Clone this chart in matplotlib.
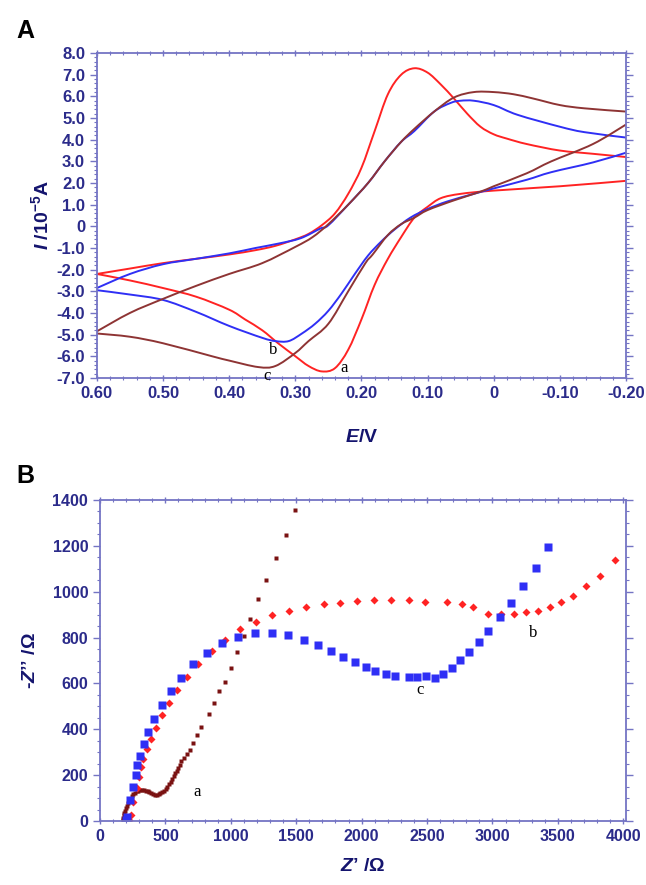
import matplotlib
matplotlib.use('Agg')
import matplotlib.pyplot as plt
from matplotlib.path import Path
from matplotlib.patches import PathPatch
from matplotlib.ticker import MultipleLocator, FixedLocator, FixedFormatter

plt.rcParams['font.family'] = ['Liberation Sans', 'DejaVu Sans']
plt.rcParams['mathtext.fontset'] = 'custom'
plt.rcParams['mathtext.rm'] = 'Liberation Sans:bold'
plt.rcParams['mathtext.it'] = 'Liberation Sans:bold:italic'
plt.rcParams['mathtext.bf'] = 'Liberation Sans:bold'
plt.rcParams['mathtext.default'] = 'rm'

# ---- panel A: cyclic voltammograms (E in V, I in 1e-5 A) ----
# a (red): forward branch with the anodic peak, then the return branch
a_up_E = [-0.20, -0.15, -0.10, -0.05, -0.02, 0.00, 0.02, 0.04, 0.06, 0.08, 0.10, 0.12, 0.14,
          0.16, 0.18, 0.20, 0.22, 0.24, 0.26, 0.28, 0.30, 0.33, 0.36, 0.40, 0.45, 0.50, 0.55, 0.60]
a_up_I = [3.2, 3.35, 3.5, 3.8, 4.05, 4.25, 4.6, 5.2, 5.9, 6.55, 7.1, 7.3, 7.0,
          6.1, 4.4, 2.7, 1.5, 0.6, 0.05, -0.35, -0.6, -0.9, -1.1, -1.3, -1.5, -1.7, -1.95, -2.2]
a_dn_E = [0.60, 0.55, 0.50, 0.45, 0.40, 0.376, 0.35, 0.326, 0.30, 0.28, 0.26, 0.24, 0.22, 0.20,
          0.18, 0.16, 0.14, 0.12, 0.10, 0.08, 0.05, 0.00, -0.10, -0.20]
a_dn_I = [-2.2, -2.5, -2.85, -3.25, -3.85, -4.3, -4.8, -5.4, -6.0, -6.45, -6.7, -6.55, -5.7, -4.3,
          -2.7, -1.5, -0.5, 0.4, 0.9, 1.3, 1.5, 1.65, 1.85, 2.1]

# b (blue)
b_up_E = [-0.20, -0.137, -0.10, -0.036, 0.00, 0.03, 0.05, 0.065, 0.09, 0.12, 0.14, 0.165, 0.19,
          0.22, 0.25, 0.262, 0.292, 0.326, 0.36, 0.40, 0.45, 0.50, 0.55, 0.60]
b_up_I = [4.1, 4.35, 4.6, 5.15, 5.6, 5.8, 5.8, 5.7, 5.3, 4.4, 3.9, 3.0, 2.0,
          1.0, 0.05, -0.1, -0.55, -0.8, -1.0, -1.25, -1.5, -1.75, -2.2, -2.85]
b_dn_E = [0.60, 0.55, 0.50, 0.45, 0.40, 0.35, 0.33, 0.31, 0.29, 0.27, 0.25, 0.23, 0.21, 0.19,
          0.17, 0.15, 0.126, 0.10, 0.07, 0.03, 0.00, -0.05, -0.087, -0.15, -0.20]
b_dn_I = [-2.95, -3.15, -3.4, -3.95, -4.6, -5.15, -5.3, -5.3, -4.95, -4.5, -3.9, -3.1, -2.2, -1.35,
          -0.7, -0.15, 0.4, 0.8, 1.15, 1.5, 1.75, 2.15, 2.5, 2.95, 3.4]

# c (brown)
c_up_E = [-0.20, -0.137, -0.10, -0.06, -0.03, 0.00, 0.03, 0.06, 0.09, 0.12, 0.14, 0.165, 0.19,
          0.22, 0.25, 0.274, 0.30, 0.35, 0.40, 0.45, 0.50, 0.55, 0.60]
c_up_I = [5.3, 5.45, 5.6, 5.9, 6.1, 6.2, 6.2, 5.95, 5.3, 4.5, 3.9, 3.0, 2.0,
          1.0, 0.1, -0.5, -0.95, -1.7, -2.2, -2.75, -3.35, -4.0, -4.85]
c_dn_E = [0.60, 0.55, 0.50, 0.426, 0.40, 0.356, 0.33, 0.30, 0.28, 0.25, 0.22, 0.194, 0.183,
          0.16, 0.14, 0.12, 0.10, 0.06, 0.02, 0.00, -0.05, -0.087, -0.15, -0.20]
c_dn_I = [-4.95, -5.1, -5.4, -6.0, -6.2, -6.5, -6.45, -5.85, -5.3, -4.5, -3.0, -1.7, -1.3,
          -0.4, 0.1, 0.4, 0.75, 1.2, 1.6, 1.85, 2.45, 3.0, 3.8, 4.7]

# ---- panel B: Nyquist plots (ohm) ----
# a (brown squares)
na_re = [175, 178, 180, 183, 188, 195, 203, 212, 222, 232, 243, 255, 268, 281, 294, 308, 322,
         336, 350, 364, 378, 392, 406, 420, 434, 448, 462, 476, 490, 503, 516, 528, 540, 552,
         563, 574, 585, 597, 609, 621, 645, 668, 688, 709, 744, 772, 836, 872, 912, 956, 999,
         1050, 1098, 1147, 1211, 1272, 1346, 1422, 1491]
na_im = [5, 15, 25, 35, 45, 55, 65, 77, 88, 98, 108, 117, 124, 129, 133, 135, 136,
         135, 133, 130, 126, 122, 118, 115, 115, 118, 122, 127, 132, 140, 150, 160, 172, 184,
         196, 208, 220, 233, 246, 260, 273, 292, 310, 339, 375, 411, 467, 515, 566, 606, 667,
         736, 808, 881, 967, 1052, 1146, 1246, 1356]
# b (red diamonds)
nb_re = [225, 237, 255, 280, 298, 313, 326, 357, 387, 428, 471, 527, 589, 665, 752, 854, 956,
         1073, 1193, 1317, 1447, 1577, 1710, 1837, 1965, 2097, 2222, 2362, 2482, 2655, 2770,
         2854, 2970, 3065, 3168, 3256, 3347, 3438, 3526, 3617, 3717, 3821, 3937]
nb_im = [5, 26, 84, 142, 193, 237, 269, 313, 356, 407, 461, 516, 570, 629, 686, 741, 791,
         836, 870, 898, 914, 932, 946, 952, 959, 962, 962, 962, 956, 956, 946,
         932, 902, 901, 905, 910, 917, 932, 955, 981, 1025, 1070, 1138]
# c (blue squares)
nc_re = [200, 204, 229, 255, 273, 285, 303, 339, 370, 415, 471, 540, 617, 708, 820, 933, 1057,
         1185, 1313, 1435, 1560, 1667, 1769, 1860, 1950, 2031, 2105, 2184, 2255, 2362, 2426,
         2495, 2564, 2625, 2689, 2755, 2824, 2895, 2969, 3058, 3142, 3236, 3333, 3428]
nc_im = [5, 19, 92, 150, 200, 244, 283, 336, 390, 443, 504, 567, 625, 683, 733, 776, 804,
         821, 821, 812, 789, 769, 743, 717, 695, 673, 654, 640, 632, 627, 628,
         631, 622, 642, 669, 702, 735, 781, 829, 888, 949, 1025, 1105, 1194]

RED = '#ff2323'
BLUE = '#2f2ff5'
BROWN = '#8e3434'
NAVY = '#14146e'
TICKC = '#2b2b8a'
SPINE = '#7474c4'


def smooth_curve(ax, xs, ys, color):
    """Draw a curve through the points as a Catmull-Rom style bezier path."""
    pts = list(zip(xs, ys))
    verts = [pts[0]]
    codes = [Path.MOVETO]
    n = len(pts)
    for i in range(n - 1):
        p0 = pts[i - 1] if i > 0 else pts[i]
        p1 = pts[i]
        p2 = pts[i + 1]
        p3 = pts[i + 2] if i + 2 < n else p2
        c1 = (p1[0] + (p2[0] - p0[0]) / 6, p1[1] + (p2[1] - p0[1]) / 6)
        c2 = (p2[0] - (p3[0] - p1[0]) / 6, p2[1] - (p3[1] - p1[1]) / 6)
        verts += [c1, c2, p2]
        codes += [Path.CURVE4] * 3
    ax.add_patch(PathPatch(Path(verts, codes), fill=False, edgecolor=color, lw=1.4))


def style_axes(ax, fs):
    for s in ax.spines.values():
        s.set_color(SPINE)
        s.set_linewidth(1.3)
    ax.tick_params(which='both', colors=SPINE, labelcolor=TICKC, direction='out',
                   top=True, right=True, labeltop=False, labelright=False)
    ax.tick_params(which='major', length=5, width=1.0)
    ax.tick_params(which='minor', length=2.5, width=0.8)
    ax.tick_params(axis='x', which='both', direction='inout')
    for lab in ax.get_xticklabels() + ax.get_yticklabels():
        lab.set_fontweight('bold')
        lab.set_fontsize(fs)


fig = plt.figure(figsize=(6.46, 8.85), dpi=100)

# panel A
axA = fig.add_axes([0.150, 0.573, 0.819, 0.367])
smooth_curve(axA, a_up_E, a_up_I, RED)
smooth_curve(axA, a_dn_E, a_dn_I, RED)
smooth_curve(axA, b_up_E, b_up_I, BLUE)
smooth_curve(axA, b_dn_E, b_dn_I, BLUE)
smooth_curve(axA, c_up_E, c_up_I, BROWN)
smooth_curve(axA, c_dn_E, c_dn_I, BROWN)
axA.set_xlim(0.60, -0.20)
axA.set_ylim(-7.0, 8.0)
xt = [0.6, 0.5, 0.4, 0.3, 0.2, 0.1, 0.0, -0.1, -0.2]
axA.xaxis.set_major_locator(FixedLocator(xt))
axA.xaxis.set_major_formatter(FixedFormatter(['0.60', '0.50', '0.40', '0.30', '0.20',
                                              '0.10', '0', '-0.10', '-0.20']))
axA.xaxis.set_minor_locator(MultipleLocator(0.02))
yt = list(range(-7, 9))
axA.yaxis.set_major_locator(FixedLocator(yt))
axA.yaxis.set_major_formatter(FixedFormatter(['0' if v == 0 else '%.1f' % v for v in yt]))
axA.yaxis.set_minor_locator(MultipleLocator(0.2))
style_axes(axA, 12)
axA.set_xlabel(r'$\mathit{E}$/V', fontsize=14, fontweight='bold', color=NAVY, labelpad=20)
axA.set_ylabel(r'$\mathit{I}$ /10$^{-5}$A', fontsize=14, fontweight='bold', color=NAVY,
               labelpad=3)
for txt, x, y in [('b', 0.334, -5.69), ('c', 0.342, -6.89), ('a', 0.227, -6.54)]:
    axA.text(x, y, txt, family='Liberation Serif', fontsize=12, ha='center', va='center')
fig.text(0.025, 0.965, 'A', fontsize=18, fontweight='bold', va='center')

# panel B
axB = fig.add_axes([0.1548, 0.0723, 0.814, 0.3627])
axB.plot(na_re, na_im, ls='none', marker='s', ms=3.2, color='#7a1212', mec='none')
axB.plot(nb_re, nb_im, ls='none', marker='D', ms=4.4, color=RED, mec='none')
axB.plot(nc_re, nc_im, ls='none', marker='s', ms=5.2, color=BLUE, mec='none')
axB.set_xlim(0, 4020)
axB.set_ylim(0, 1400)
axB.xaxis.set_major_locator(MultipleLocator(500))
axB.xaxis.set_minor_locator(MultipleLocator(100))
axB.yaxis.set_major_locator(MultipleLocator(200))
axB.yaxis.set_minor_locator(MultipleLocator(50))
style_axes(axB, 11.5)
axB.set_xlabel("$\\mathit{Z}$’ /Ω", fontsize=14, fontweight='bold', color=NAVY, labelpad=10)
axB.set_ylabel("-$\\mathit{Z}$’’ /Ω", fontsize=14, fontweight='bold', color=NAVY, labelpad=10)
for txt, x, y in [('a', 743, 127), ('c', 2447, 571), ('b', 3309, 821)]:
    axB.text(x, y, txt, family='Liberation Serif', fontsize=12, ha='center', va='center')
fig.text(0.025, 0.462, 'B', fontsize=18, fontweight='bold', va='center')

fig.savefig('out.png', dpi=100)
